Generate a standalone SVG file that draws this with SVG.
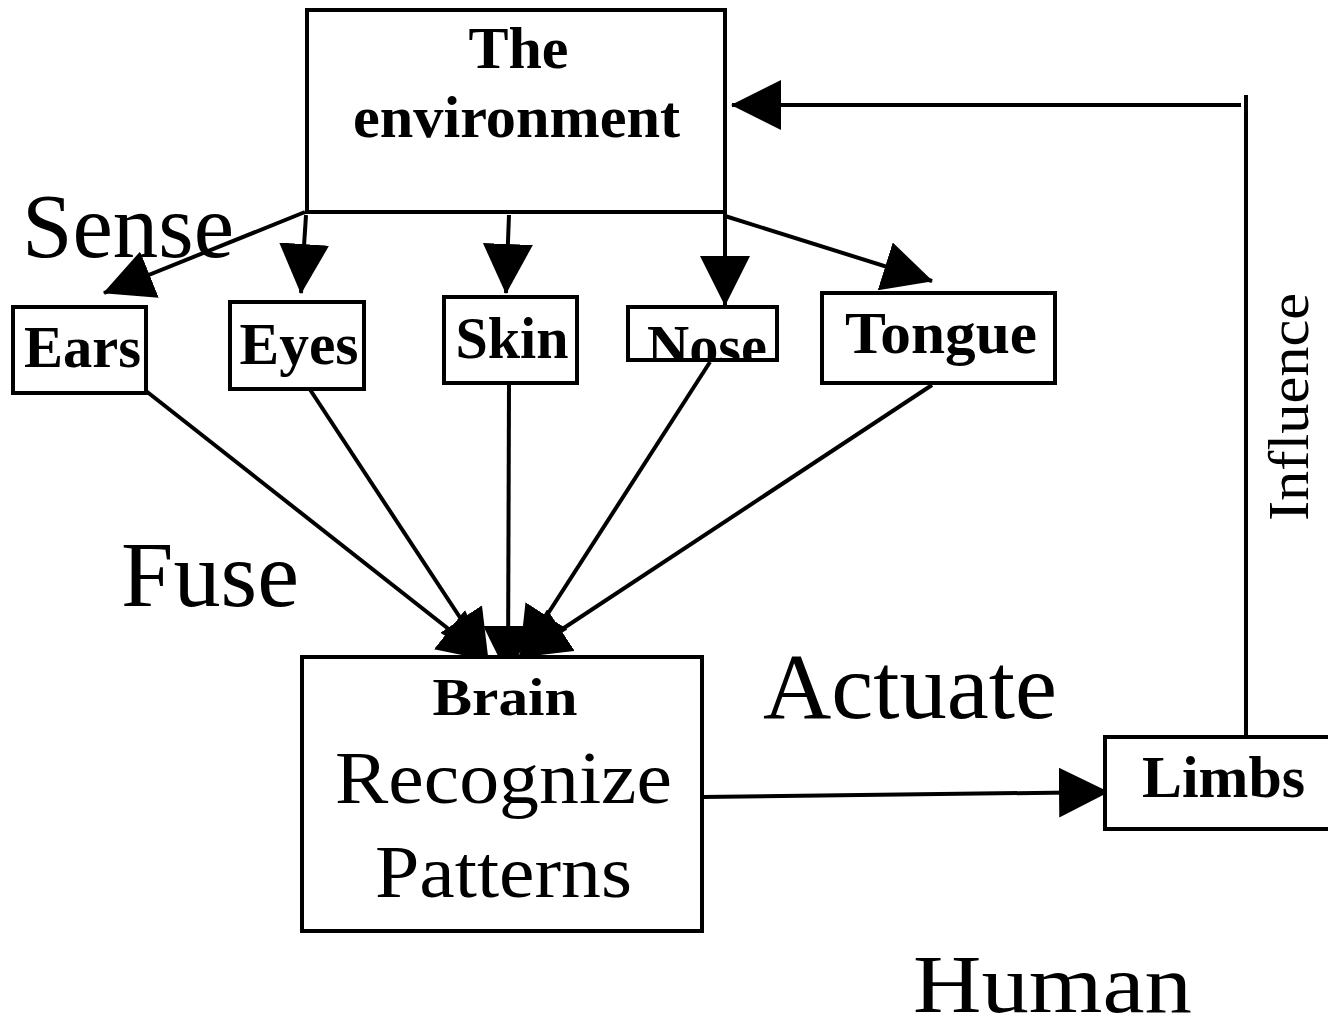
<svg xmlns="http://www.w3.org/2000/svg" width="1328" height="1029" viewBox="0 0 1328 1029">
<style>
  .box { fill: #fff; stroke: #000; stroke-width: 4; }
  .con { fill: none; stroke: #000; stroke-width: 4; }
  .arr { marker-end: url(#ah); }
  .bold { font-family: "Liberation Serif", "Times New Roman", serif; font-weight: bold; fill: #000; }
  .reg { font-family: "Liberation Serif", "Times New Roman", serif; font-weight: normal; fill: #000; }
</style>
<defs>
  <marker id="ah" viewBox="0 0 50 50" refX="49" refY="25" markerWidth="50" markerHeight="50" markerUnits="userSpaceOnUse" orient="auto">
    <path d="M0,0 L50,25 L0,50 Z" fill="#000"/>
  </marker>
  <clipPath id="noseClip"><rect x="630" y="309" width="145" height="49"/></clipPath>
</defs>
<rect width="1328" height="1029" fill="#fff"/>

<g id="labels">
  <text class="reg" x="22" y="257" font-size="90" textLength="212" lengthAdjust="spacingAndGlyphs">Sense</text>
  <text class="reg" x="121" y="606" font-size="93" textLength="178" lengthAdjust="spacingAndGlyphs">Fuse</text>
  <text class="reg" x="763" y="718" font-size="94" textLength="294" lengthAdjust="spacingAndGlyphs">Actuate</text>
  <text class="reg" x="913" y="1012" font-size="82" textLength="279" lengthAdjust="spacingAndGlyphs">Human</text>
  <text class="reg" transform="translate(1308,521) rotate(-90)" x="0" y="0" font-size="56" textLength="228" lengthAdjust="spacingAndGlyphs">Influence</text>
</g>

<g id="connectors">
  <line class="con arr" x1="305" y1="212" x2="104" y2="293"/>
  <line class="con arr" x1="306" y1="215" x2="301" y2="293"/>
  <line class="con arr" x1="509" y1="215" x2="506" y2="293"/>
  <line class="con arr" x1="725" y1="212" x2="725" y2="305"/>
  <line class="con arr" x1="725" y1="216" x2="932" y2="281"/>
  <line class="con arr" x1="146" y1="391" x2="488" y2="660"/>
  <line class="con arr" x1="307" y1="385" x2="488" y2="660"/>
  <line class="con arr" x1="509" y1="383" x2="508" y2="675"/>
  <line class="con arr" x1="710" y1="362" x2="520" y2="657"/>
  <line class="con arr" x1="932" y1="385" x2="520" y2="657"/>
  <line class="con arr" x1="702" y1="797" x2="1108" y2="792"/>
  <line class="con" x1="1246" y1="95" x2="1246" y2="737"/>
  <line class="con arr" x1="1241" y1="105" x2="732" y2="105"/>
</g>

<g id="environment">
  <rect class="box" x="307" y="10" width="418" height="202"/>
  <text class="bold" x="518.5" y="68" font-size="60" text-anchor="middle">The</text>
  <text class="bold" x="516.5" y="137" font-size="60" text-anchor="middle" textLength="327" lengthAdjust="spacingAndGlyphs">environment</text>
</g>

<g id="ears">
  <rect class="box" x="13" y="307" width="133" height="86"/>
  <text class="bold" x="82.5" y="367" font-size="60" text-anchor="middle" textLength="117" lengthAdjust="spacingAndGlyphs">Ears</text>
</g>

<g id="eyes">
  <rect class="box" x="230" y="302" width="134" height="87"/>
  <text class="bold" x="299" y="364" font-size="60" text-anchor="middle" textLength="119" lengthAdjust="spacingAndGlyphs">Eyes</text>
</g>

<g id="skin">
  <rect class="box" x="444" y="297" width="133" height="86"/>
  <text class="bold" x="512" y="358" font-size="60" text-anchor="middle" textLength="113" lengthAdjust="spacingAndGlyphs">Skin</text>
</g>

<g id="nose">
  <rect class="box" x="628" y="307" width="149" height="53"/>
  <text class="bold" x="707" y="366" font-size="60" text-anchor="middle" textLength="120" lengthAdjust="spacingAndGlyphs" clip-path="url(#noseClip)">Nose</text>
</g>

<g id="tongue">
  <rect class="box" x="822" y="293" width="233" height="90"/>
  <text class="bold" x="941" y="353" font-size="60" text-anchor="middle" textLength="192" lengthAdjust="spacingAndGlyphs">Tongue</text>
</g>

<g id="brain">
  <rect class="box" x="302" y="657" width="400" height="274"/>
  <text class="bold" x="505" y="715" font-size="53" text-anchor="middle" textLength="145" lengthAdjust="spacingAndGlyphs">Brain</text>
  <text class="reg" x="503.5" y="803" font-size="74" text-anchor="middle" textLength="337" lengthAdjust="spacingAndGlyphs">Recognize</text>
  <text class="reg" x="503.5" y="897" font-size="74" text-anchor="middle" textLength="257" lengthAdjust="spacingAndGlyphs">Patterns</text>
</g>

<g id="limbs">
  <rect class="box" x="1105" y="737" width="240" height="92"/>
  <text class="bold" x="1142" y="797" font-size="60" textLength="163" lengthAdjust="spacingAndGlyphs">Limbs</text>
</g>
</svg>
